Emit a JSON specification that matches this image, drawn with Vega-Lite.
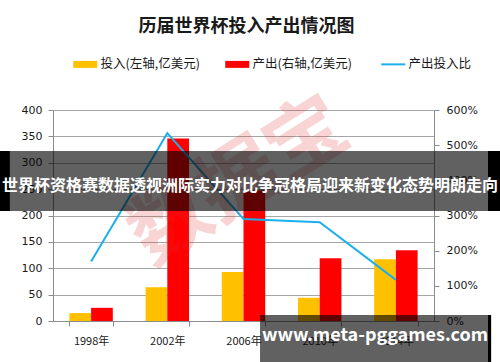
{
  "$schema": "https://vega.github.io/schema/vega-lite/v6.json",
  "width": 381,
  "height": 211,
  "autosize": {"type": "none"},
  "padding": {"left": 53, "top": 110, "right": 66, "bottom": 41},
  "background": "white",
  "config": {"view": {"stroke": null}, "font": "Noto Sans CJK SC"},
  "title": {"text": "历届世界杯投入产出情况图", "fontSize": 18, "fontWeight": "bold", "color": "#1a1a1a", "anchor": "middle", "font": "Noto Sans CJK SC", "offset": 22, "dx": 3},
  "datasets": {
    "bars": [
      {"year": "1998年", "series": "投入(左轴,亿美元)", "value": 15},
      {"year": "1998年", "series": "产出(右轴,亿美元)", "value": 25},
      {"year": "2002年", "series": "投入(左轴,亿美元)", "value": 64},
      {"year": "2002年", "series": "产出(右轴,亿美元)", "value": 346},
      {"year": "2006年", "series": "投入(左轴,亿美元)", "value": 93},
      {"year": "2006年", "series": "产出(右轴,亿美元)", "value": 248},
      {"year": "2010年", "series": "投入(左轴,亿美元)", "value": 44},
      {"year": "2010年", "series": "产出(右轴,亿美元)", "value": 119},
      {"year": "2014年", "series": "投入(左轴,亿美元)", "value": 117},
      {"year": "2014年", "series": "产出(右轴,亿美元)", "value": 134}
    ],
    "ratio": [
      {"year": "1998年", "series": "产出投入比", "ratio": 1.69},
      {"year": "2002年", "series": "产出投入比", "ratio": 5.34},
      {"year": "2006年", "series": "产出投入比", "ratio": 2.9},
      {"year": "2010年", "series": "产出投入比", "ratio": 2.81},
      {"year": "2014年", "series": "产出投入比", "ratio": 1.17}
    ]
  },
  "layer": [
    {
      "data": {"name": "bars"},
      "mark": {"type": "bar"},
      "encoding": {
        "x": {"field": "year", "type": "nominal", "sort": null,
          "scale": {"paddingInner": 0.43, "paddingOuter": 0.215},
          "axis": {"title": null, "labelAngle": 0, "tickBand": "extent", "domainColor": "#8c8c8c", "tickColor": "#8c8c8c", "tickSize": 5, "labelFontSize": 11, "labelColor": "#1a1a1a", "labelPadding": 9, "labelFont": "Noto Sans CJK SC"}},
        "xOffset": {"field": "series", "type": "nominal", "sort": ["投入(左轴,亿美元)", "产出(右轴,亿美元)"], "scale": {"paddingInner": 0, "paddingOuter": 0}},
        "y": {"field": "value", "type": "quantitative",
          "scale": {"domain": [0, 400], "nice": false},
          "axis": {"title": null, "values": [0, 50, 100, 150, 200, 250, 300, 350, 400], "grid": true, "gridColor": "#a6a6a6", "domainColor": "#8c8c8c", "tickColor": "#8c8c8c", "tickSize": 5, "labelFontSize": 11, "labelColor": "#1a1a1a", "labelFont": "DejaVu Sans", "labelPadding": 6}},
        "color": {"field": "series", "type": "nominal",
          "scale": {"domain": ["投入(左轴,亿美元)", "产出(右轴,亿美元)", "产出投入比"], "range": ["#FFC000", "#FF0000", "#1BB0EC"]},
          "legend": {"title": null, "orient": "none", "legendX": 26, "legendY": -52, "direction": "horizontal", "labelFontSize": 12.5, "labelColor": "#1a1a1a", "labelFont": "Noto Sans CJK SC", "symbolSize": 576, "columnPadding": 25, "labelOffset": 9,
            "encode": {"symbols": {"update": {
              "shape": {"signal": "datum.value == '产出投入比' ? 'stroke' : 'M-1,-0.29H1V0.29H-1Z'"},
              "fill": {"signal": "datum.value == '产出投入比' ? 'transparent' : scale('color', datum.value)"},
              "stroke": {"signal": "scale('color', datum.value)"},
              "strokeWidth": {"signal": "datum.value == '产出投入比' ? 2 : 0"},
              "opacity": {"value": 1}
            }}}}}
      }
    },
    {
      "data": {"name": "ratio"},
      "mark": {"type": "line", "strokeWidth": 2},
      "encoding": {
        "x": {"field": "year", "type": "nominal", "sort": null, "scale": {"paddingInner": 0.43, "paddingOuter": 0.215}, "axis": null},
        "y": {"field": "ratio", "type": "quantitative",
          "scale": {"domain": [0, 6], "nice": false},
          "axis": {"orient": "right", "title": null, "values": [0, 1, 2, 3, 4, 5, 6], "format": ".0%", "grid": false, "domainColor": "#8c8c8c", "tickColor": "#8c8c8c", "tickSize": 5, "labelFontSize": 11, "labelColor": "#1a1a1a", "labelFont": "DejaVu Sans", "labelPadding": 7}},
        "color": {"field": "series", "type": "nominal"}
      }
    },
    {
      "data": {"values": [{"label": "数据宝", "x": 2.45, "y": 262}]},
      "mark": {"type": "text", "fontSize": 80, "angle": -32, "fill": "#e03030", "opacity": 0.2, "font": "Noto Sans CJK SC", "fontWeight": "bold", "baseline": "middle", "align": "center"},
      "encoding": {
        "x": {"field": "x", "type": "quantitative", "scale": {"domain": [0, 5], "nice": false, "zero": false}, "axis": null},
        "y": {"field": "y", "type": "quantitative", "scale": {"domain": [0, 400], "nice": false, "zero": false}, "axis": null},
        "text": {"field": "label"}
      }
    },
    {
      "data": {"values": [{"x": -0.565, "x2": 5.709, "y": 208.5, "y2": 322.3}, {"x": 2.717, "x2": 5.709, "y": -80, "y2": 11.4}]},
      "mark": {"type": "rect", "fill": "#000000", "opacity": 0.62},
      "encoding": {
        "x": {"field": "x", "type": "quantitative", "scale": {"domain": [0, 5], "nice": false, "zero": false}, "axis": null},
        "x2": {"field": "x2"},
        "y": {"field": "y", "type": "quantitative", "scale": {"domain": [0, 400], "nice": false, "zero": false}, "axis": null},
        "y2": {"field": "y2"}
      }
    },
    {
      "data": {"values": [{"x": -0.7, "x2": -0.565, "y": 208.5, "y2": 322.3}, {"x": 5.709, "x2": 5.87, "y": 208.5, "y2": 322.3}, {"x": 5.709, "x2": 5.75, "y": -80, "y2": 11.4}]},
      "mark": {"type": "rect", "fill": "#000000"},
      "encoding": {
        "x": {"field": "x", "type": "quantitative", "scale": {"domain": [0, 5], "nice": false, "zero": false}, "axis": null},
        "x2": {"field": "x2"},
        "y": {"field": "y", "type": "quantitative", "scale": {"domain": [0, 400], "nice": false, "zero": false}, "axis": null},
        "y2": {"field": "y2"}
      }
    },
    {
      "data": {"values": [{"label": "世界杯资格赛数据透视洲际实力对比争冠格局迎来新变化态势明朗走向", "x": 2.585, "y": 256}]},
      "mark": {"type": "text", "fill": "#ffffff", "fontWeight": "bold", "font": "Noto Sans CJK SC", "fontSize": 16, "baseline": "middle", "align": "center"},
      "encoding": {
        "x": {"field": "x", "type": "quantitative", "scale": {"domain": [0, 5], "nice": false, "zero": false}, "axis": null},
        "y": {"field": "y", "type": "quantitative", "scale": {"domain": [0, 400], "nice": false, "zero": false}, "axis": null},
        "text": {"field": "label"}
      }
    },
    {
      "data": {"values": [{"label": "www.meta-pggames.com", "x": 4.226, "y": -28.4}]},
      "mark": {"type": "text", "fill": "#ffffff", "fontWeight": "bold", "font": "Noto Sans CJK SC", "fontSize": 18, "baseline": "middle", "align": "center"},
      "encoding": {
        "x": {"field": "x", "type": "quantitative", "scale": {"domain": [0, 5], "nice": false, "zero": false}, "axis": null},
        "y": {"field": "y", "type": "quantitative", "scale": {"domain": [0, 400], "nice": false, "zero": false}, "axis": null},
        "text": {"field": "label"}
      }
    }
  ],
  "resolve": {"scale": {"x": "independent", "y": "independent"}}
}
